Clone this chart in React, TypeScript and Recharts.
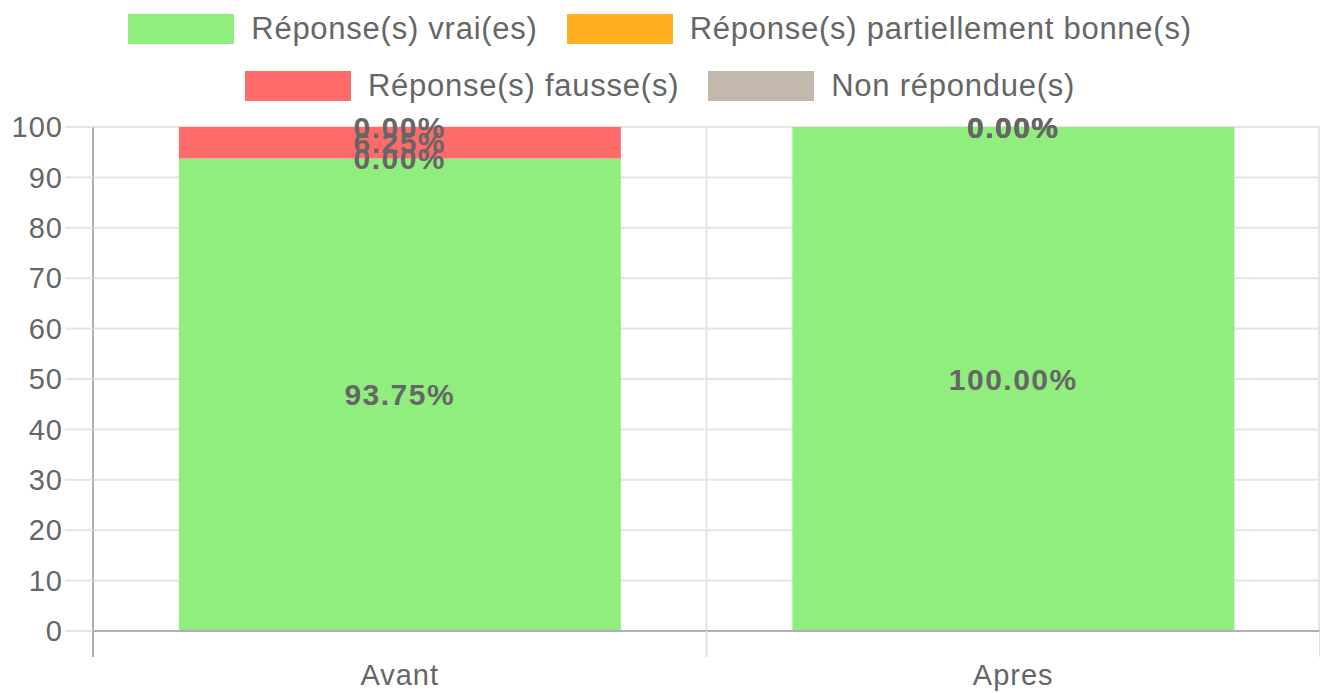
import React from 'react';
import { BarChart, Bar, XAxis, YAxis, CartesianGrid, Legend, ReferenceDot } from 'recharts';

const categories = ['Avant', 'Apres'];
const vrai = [93.75, 100];
const partiel = [0, 0];
const fausse = [6.25, 0];
const nonRep = [0, 0];
const yTicks = [0, 10, 20, 30, 40, 50, 60, 70, 80, 90, 100];

const series = [
  { key: 'vrai', name: 'Réponse(s) vrai(es)', color: '#90ee7e', values: vrai },
  { key: 'partiel', name: 'Réponse(s) partiellement bonne(s)', color: '#ffb01f', values: partiel },
  { key: 'fausse', name: 'Réponse(s) fausse(s)', color: '#ff6b6b', values: fausse },
  { key: 'nonRep', name: 'Non répondue(s)', color: '#c2b8ac', values: nonRep },
];

const data = categories.map((name, i) => ({
  name,
  vrai: vrai[i],
  partiel: partiel[i],
  fausse: fausse[i],
  nonRep: nonRep[i],
}));

// segment centres in data units, for the percentage labels
const labels: { cat: string; mid: number; value: number; key: string }[] = [];
categories.forEach((cat, i) => {
  let base = 0;
  series.forEach((s) => {
    const v = s.values[i];
    labels.push({ cat, mid: base + v / 2, value: v, key: `${s.key}-${i}` });
    base += v;
  });
});

const W = 1320;
const H = 693;
const Y_AXIS_W = 93;
const PLOT_W = W - Y_AXIS_W;
const BAND = PLOT_W / categories.length;
const X_TICK = 26;
const X_MARGIN = 7;

const FONT = '"Liberation Sans", Arial, Helvetica, sans-serif';
const TEXT = '#666';

const fmt = (v: any) => Number(v).toFixed(2) + '%';

function LegendBox() {
  const rows = [series.slice(0, 2), series.slice(2)];
  return (
    <div style={{ width: W, height: 127, fontFamily: FONT }}>
      {rows.map((row, ri) => (
        <div key={ri} style={{ height: 57, display: 'flex', justifyContent: 'center', alignItems: 'center', gap: 29 }}>
          {row.map((s) => (
            <div key={s.key} style={{ display: 'flex', alignItems: 'center' }}>
              <span style={{ width: 106, height: 30, background: s.color, display: 'inline-block', marginRight: 17 }} />
              <span style={{ fontSize: 31, color: TEXT, letterSpacing: 0.75, whiteSpace: 'nowrap' }}>{s.name}</span>
            </div>
          ))}
        </div>
      ))}
    </div>
  );
}

function XTick(props: any) {
  const { x, y, payload, index } = props;
  const top = y - X_TICK - X_MARGIN;
  const half = BAND / 2;
  return (
    <g>
      <line x1={x - half} x2={x - half} y1={top} y2={top + X_TICK} stroke={index === 0 ? '#b0b0b0' : '#e0e0e0'} strokeWidth={2} />
      {index === categories.length - 1 && (
        <line x1={x + half} x2={x + half} y1={top} y2={top + X_TICK} stroke="#e0e0e0" strokeWidth={2} />
      )}
      <text x={x} y={y} dy="0.71em" textAnchor="middle" fill={TEXT} fontSize={29} letterSpacing={1} fontFamily={FONT}>
        {payload.value}
      </text>
    </g>
  );
}

function SegLabel(props: any) {
  const { viewBox, text } = props;
  if (!viewBox) return null;
  const cx = viewBox.x + (viewBox.width || 0) / 2;
  const cy = viewBox.y + (viewBox.height || 0) / 2;
  return (
    <text
      x={cx}
      y={cy}
      dy="0.355em"
      textAnchor="middle"
      fill={TEXT}
      fontSize={30}
      fontWeight="bold"
      fontFamily={FONT}
      letterSpacing={1.5}
    >
      {text}
    </text>
  );
}

export default function App() {
  return (
    <div style={{ position: 'absolute', left: 0, top: 0, background: '#fff' }}>
      <BarChart width={W} height={H} data={data} margin={{ top: 0, right: 0, bottom: 0, left: 0 }} barCategoryGap="14%">
        <Legend verticalAlign="top" align="center" content={() => <LegendBox />} wrapperStyle={{ top: 0, left: 0 }} />
        <CartesianGrid
          stroke="#e5e5e5"
          strokeWidth={2}
          verticalCoordinatesGenerator={({ offset }: any) => [offset.left + offset.width / 2, offset.left + offset.width - 1]}
        />
        <XAxis
          dataKey="name"
          height={H - 631}
          tickSize={X_TICK}
          tickMargin={X_MARGIN}
          tickLine={false}
          axisLine={{ stroke: '#b0b0b0', strokeWidth: 2 }}
          tick={<XTick />}
          interval={0}
        />
        <YAxis
          width={Y_AXIS_W}
          domain={[0, 100]}
          ticks={yTicks}
          interval={0}
          tickSize={28}
          tickMargin={2}
          tickLine={{ stroke: '#e5e5e5', strokeWidth: 2 }}
          axisLine={{ stroke: '#b0b0b0', strokeWidth: 2 }}
          tick={{ fill: TEXT, fontSize: 29, fontFamily: FONT, letterSpacing: 1 }}
        />
        {series.map((s) => (
          <Bar key={s.key} dataKey={s.key} name={s.name} stackId="a" fill={s.color} isAnimationActive={false} />
        ))}
        {labels.map((l) => (
          <ReferenceDot
            key={l.key}
            x={l.cat}
            y={l.mid}
            r={0}
            fill="none"
            stroke="none"
            ifOverflow="visible"
            label={<SegLabel text={fmt(l.value)} />}
          />
        ))}
      </BarChart>
    </div>
  );
}
